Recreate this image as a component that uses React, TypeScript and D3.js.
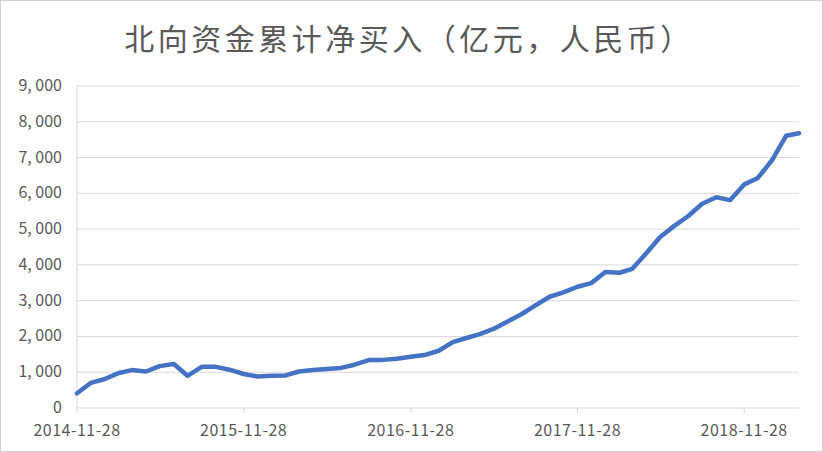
import React from "react";
import * as d3 from "d3";

const title = "北向资金累计净买入（亿元，人民币）";
const startDate = "2014-11-28";
const endDate = "2019-03-28";
const xTickLabels = ["2014-11-28", "2015-11-28", "2016-11-28", "2017-11-28", "2018-11-28"];
const yTicks = [0, 1000, 2000, 3000, 4000, 5000, 6000, 7000, 8000, 9000];
const values = [
  410, 700, 810, 980, 1060, 1020, 1170, 1230, 900, 1150, 1150, 1070,
  950, 880, 900, 910, 1020, 1060, 1090, 1120, 1210, 1340, 1345, 1375,
  1430, 1480, 1600, 1840, 1950, 2065, 2210, 2420, 2620, 2870, 3110, 3230,
  3390, 3490, 3800, 3780, 3890, 4330, 4780, 5090, 5360, 5710, 5890, 5810,
  6250, 6430, 6930, 7610, 7680,
];

const W = 823;
const H = 452;

export default function App() {
  const parse = d3.timeParse("%Y-%m-%d");
  const start = parse(startDate) as Date;
  const end = parse(endDate) as Date;
  const dates = values.map((_, i) => d3.timeMonth.offset(start, i));
  const x = d3.scaleTime().domain([start, end]).range([77, 799]);
  const y = d3.scaleLinear().domain([0, 9000]).range([408, 86]);
  const line = d3
    .line<number>()
    .x((_, i) => x(dates[i]))
    .y((d) => y(d));
  const fmt = d3.format(",");
  const font = "'Noto Sans CJK SC', 'Noto Sans', sans-serif";
  return (
    <svg
      width={W}
      height={H}
      style={{ position: "absolute", left: 0, top: 0, background: "#fff" }}
    >
      <rect x={0.5} y={0.5} width={W - 1} height={H - 1} fill="#fff" stroke="#d0d0d0" />
      <text
        x={409}
        y={50}
        textAnchor="middle"
        fontFamily={font}
        fontSize={30}
        letterSpacing={3.5}
        fill="#595959"
      >
        {title}
      </text>
      {yTicks.map((t) => (
        <g key={t}>
          {t > 0 && (
            <line x1={77} x2={799} y1={y(t)} y2={y(t)} stroke="#d9d9d9" strokeWidth={1} />
          )}
          <text
            x={62}
            y={y(t) + 5}
            textAnchor="end"
            fontFamily={font}
            fontSize={16}
            fill="#595959"
          >
            {fmt(t).replace(",", ", ")}
          </text>
        </g>
      ))}
      <line x1={77} x2={77} y1={86} y2={408} stroke="#d9d9d9" strokeWidth={1} />
      <line x1={77} x2={799} y1={408} y2={408} stroke="#d9d9d9" strokeWidth={1} />
      {xTickLabels.map((l) => {
        const xx = x(parse(l) as Date);
        return (
          <g key={l}>
            <line x1={xx} x2={xx} y1={408} y2={413} stroke="#d9d9d9" strokeWidth={1} />
            <text
              x={xx}
              y={436}
              textAnchor="middle"
              fontFamily={font}
              fontSize={16}
              letterSpacing={0.5}
              fill="#595959"
            >
              {l}
            </text>
          </g>
        );
      })}
      <path
        d={line(values) || ""}
        fill="none"
        stroke="#4472C4"
        strokeWidth={4.5}
        strokeLinejoin="round"
        strokeLinecap="round"
      />
    </svg>
  );
}
